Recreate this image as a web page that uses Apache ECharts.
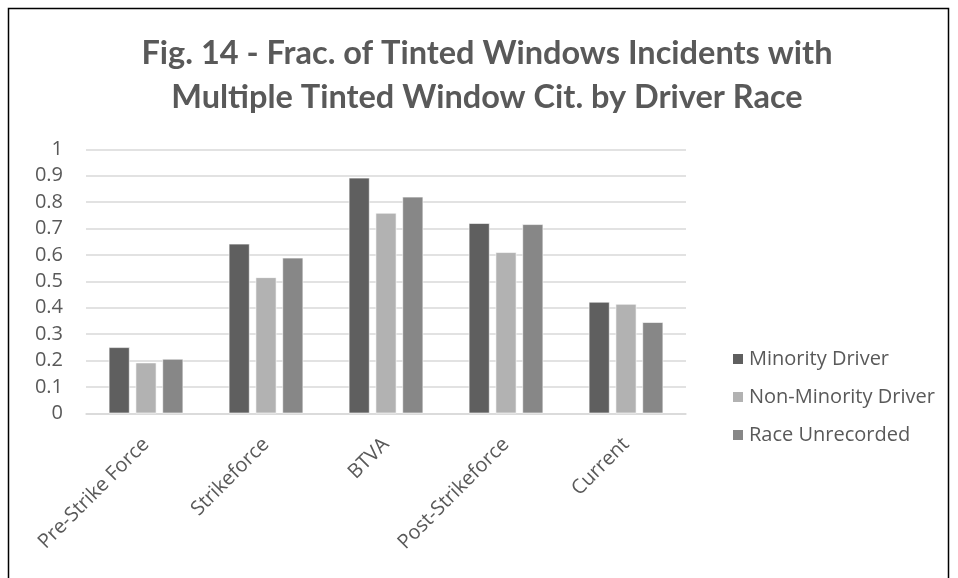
<!DOCTYPE html>
<html>
<head>
<meta charset="utf-8">
<script src="https://cdn.jsdelivr.net/npm/echarts@6/dist/echarts.min.js"></script>
<style>
  html, body { margin: 0; padding: 0; background: #fff; }
  #chart { width: 958px; height: 578px; }
</style>
</head>
<body>
<div id="chart"></div>
<script>
// Periods of enforcement
const categories = ['Pre-Strike Force', 'Strikeforce', 'BTVA', 'Post-Strikeforce', 'Current'];

// Fraction of tinted-window incidents with multiple tinted-window citations
const minorityDriver = [0.25, 0.642, 0.892, 0.72, 0.422];
const nonMinorityDriver = [0.192, 0.515, 0.759, 0.61, 0.414];
const raceUnrecorded = [0.206, 0.589, 0.82, 0.716, 0.345];

const seriesNames = ['Minority Driver', 'Non-Minority Driver', 'Race Unrecorded'];
const yTicks = [0, 0.1, 0.2, 0.3, 0.4, 0.5, 0.6, 0.7, 0.8, 0.9, 1];

const colors = ['#5f5f5f', '#b2b2b2', '#878787'];
const textColor = '#595959';
const titleFont = 'Lato, sans-serif';
const labelFont = '"Open Sans", sans-serif';

const chart = echarts.init(document.getElementById('chart'), null, { renderer: 'canvas' });

function barSeries(name, data, color) {
  return {
    name: name,
    type: 'bar',
    data: data,
    barGap: '29%',
    barCategoryGap: '38%',
    itemStyle: { color: color, borderColor: '#ffffff', borderWidth: 0.6 },
    emphasis: { disabled: true }
  };
}

chart.setOption({
  animation: false,
  backgroundColor: '#ffffff',
  textStyle: { fontFamily: labelFont },
  graphic: [{
    type: 'rect',
    shape: { x: 8.5, y: 8.5, width: 940, height: 600 },
    style: { fill: 'none', stroke: '#000000', lineWidth: 1.5 },
    silent: true
  }],
  title: {
    text: 'Fig. 14 - Frac. of Tinted Windows Incidents with\nMultiple Tinted Window Cit. by Driver Race',
    left: 482,
    top: 27,
    textAlign: 'center',
    textStyle: {
      color: textColor,
      fontSize: 32.5,
      fontWeight: 'bold',
      fontFamily: titleFont,
      lineHeight: 44
    }
  },
  legend: {
    orient: 'vertical',
    left: 726,
    top: 344,
    itemWidth: 12,
    itemHeight: 12,
    itemGap: 18,
    icon: 'rect',
    textStyle: { color: textColor, fontSize: 20, fontFamily: labelFont },
    data: seriesNames
  },
  grid: {
    left: 86,
    top: 149.3,
    width: 600,
    height: 264,
    containLabel: false
  },
  xAxis: {
    type: 'category',
    data: categories,
    axisLine: { lineStyle: { color: '#d9d9d9', width: 1.5 } },
    axisTick: { show: false },
    axisLabel: {
      color: textColor,
      fontSize: 20,
      fontFamily: labelFont,
      rotate: 45,
      interval: 0,
      margin: 28
    }
  },
  yAxis: {
    type: 'value',
    min: 0,
    max: 1,
    interval: 0.1,
    axisLine: { show: false },
    axisTick: { show: false },
    splitLine: { lineStyle: { color: '#d9d9d9', width: 1.5 } },
    axisLabel: {
      color: textColor,
      fontSize: 20,
      fontFamily: labelFont,
      margin: 23,
      formatter: function (v) {
        const t = yTicks.find(function (k) { return Math.abs(k - v) < 1e-9; });
        return t === undefined ? '' : String(t);
      }
    }
  },
  series: [
    barSeries(seriesNames[0], minorityDriver, colors[0]),
    barSeries(seriesNames[1], nonMinorityDriver, colors[1]),
    barSeries(seriesNames[2], raceUnrecorded, colors[2])
  ]
});
</script>
</body>
</html>
